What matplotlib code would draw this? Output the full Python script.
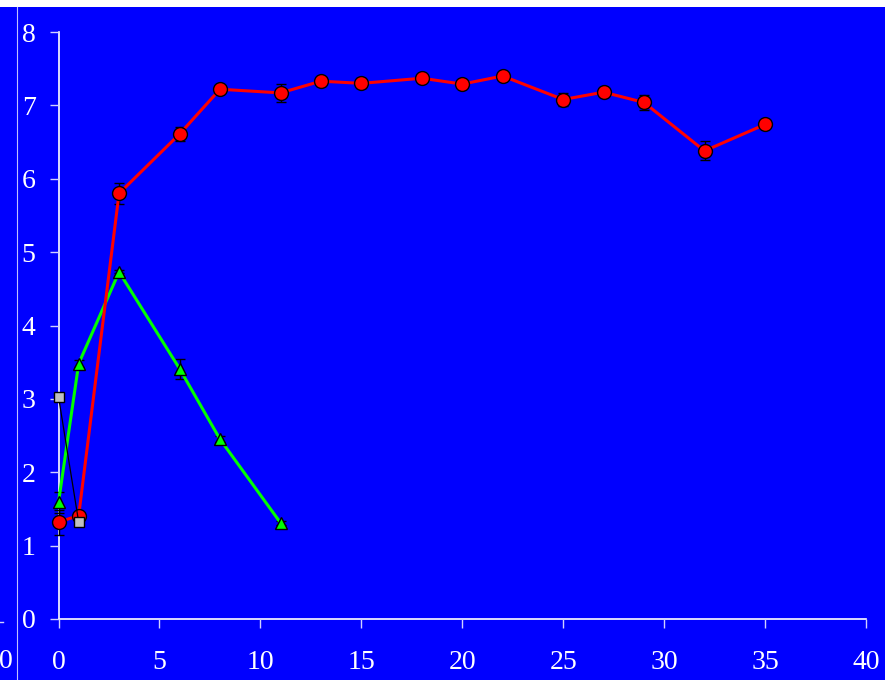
import numpy as np
import matplotlib.pyplot as plt
from matplotlib.lines import Line2D
from matplotlib.patches import Rectangle

plt.rcParams['font.family'] = ['Liberation Serif', 'DejaVu Serif']

# --- Data --------------------------------------------------------------------
red_x   = [0, 1, 3, 6, 8, 11, 13, 15, 18, 20, 22, 25, 27, 29, 32, 35]
red_y   = [1.32, 1.41, 5.80, 6.61, 7.22, 7.17, 7.33, 7.30, 7.37, 7.29, 7.40,
           7.08, 7.18, 7.04, 6.38, 6.74]
red_err = [0.17, 0.04, 0.14, 0.09, 0.03, 0.12, 0.06, 0.07, 0.03, 0.04, 0.03,
           0.09, 0.05, 0.10, 0.13, 0.03]

green_x   = [0, 1, 3, 6, 8, 11]
green_y   = [1.59, 3.48, 4.73, 3.41, 2.45, 1.31]
green_err = [0.14, 0.05, 0.02, 0.14, 0.04, 0.03]

gray_x = [0, 1]
gray_y = [3.03, 1.32]

xticks = [0, 5, 10, 15, 20, 25, 30, 35, 40]
yticks = [0, 1, 2, 3, 4, 5, 6, 7, 8]

BLUE = "#0000FF"

# --- Figure ------------------------------------------------------------------
fig = plt.figure(figsize=(8.85, 6.8), dpi=100, facecolor=BLUE)
ax = fig.add_axes([58.5 / 885, 61 / 680, (866 - 58.5) / 885, (619 - 32) / 680])
ax.set_facecolor(BLUE)

# error bars under the markers
for xs, ys, es in ((red_x, red_y, red_err), (green_x, green_y, green_err)):
    eb = ax.errorbar(xs, ys, yerr=es, fmt="none", ecolor="black",
                     elinewidth=1, capsize=3.5, capthick=1, zorder=2)
    for art in eb.lines[1] + eb.lines[2]:
        art.set_clip_on(False)

ax.plot(green_x, green_y, color="#00FF00", lw=2.2, marker="^", ms=9,
        mfc="#00FF00", mec="black", mew=1, zorder=3, clip_on=False)
ax.plot(red_x, red_y, color="#FF0000", lw=2.2, marker="o", ms=10,
        mfc="#FF0000", mec="black", mew=1, zorder=4, clip_on=False)
ax.plot(gray_x, gray_y, color="black", lw=0.9, marker="s", ms=7,
        mfc="#C0C0C0", mec="black", mew=1, zorder=5, clip_on=False)

ax.set_xlim(0, 40)
ax.set_ylim(0, 8)
ax.set_xticks(xticks)
ax.set_yticks(yticks)

for s in ("top", "right"):
    ax.spines[s].set_visible(False)
for s in ("left", "bottom"):
    ax.spines[s].set_color("white")
    ax.spines[s].set_linewidth(1.2)
    ax.spines[s].set_zorder(1)

ax.tick_params(axis="x", direction="out", length=6.5, width=1, color="#D0D0FF",
               labelcolor="white", labelsize=20, pad=16)
ax.tick_params(axis="y", direction="out", length=6.5, width=1, color="#D0D0FF",
               labelcolor="white", labelsize=20, pad=10)

# white strip at the top and pieces of the neighbouring chart on the left
fig.patches.append(Rectangle((0, 1 - 7 / 680), 1, 7 / 680, transform=fig.transFigure,
                             facecolor="white", edgecolor="none"))
fig.add_artist(Line2D([17 / 885, 17 / 885], [0, 1 - 7 / 680], transform=fig.transFigure,
                      color="#C0C0FF", lw=0.8))
fig.add_artist(Line2D([0, 3 / 885], [1 - 622 / 680, 1 - 622 / 680], transform=fig.transFigure,
                      color="#D0D0FF", lw=1))
fig.text(6 / 885, 1 - 661 / 680, "0", color="white", fontsize=20,
         ha="center", va="center")

fig.savefig("out.png", dpi=100, facecolor=BLUE)
